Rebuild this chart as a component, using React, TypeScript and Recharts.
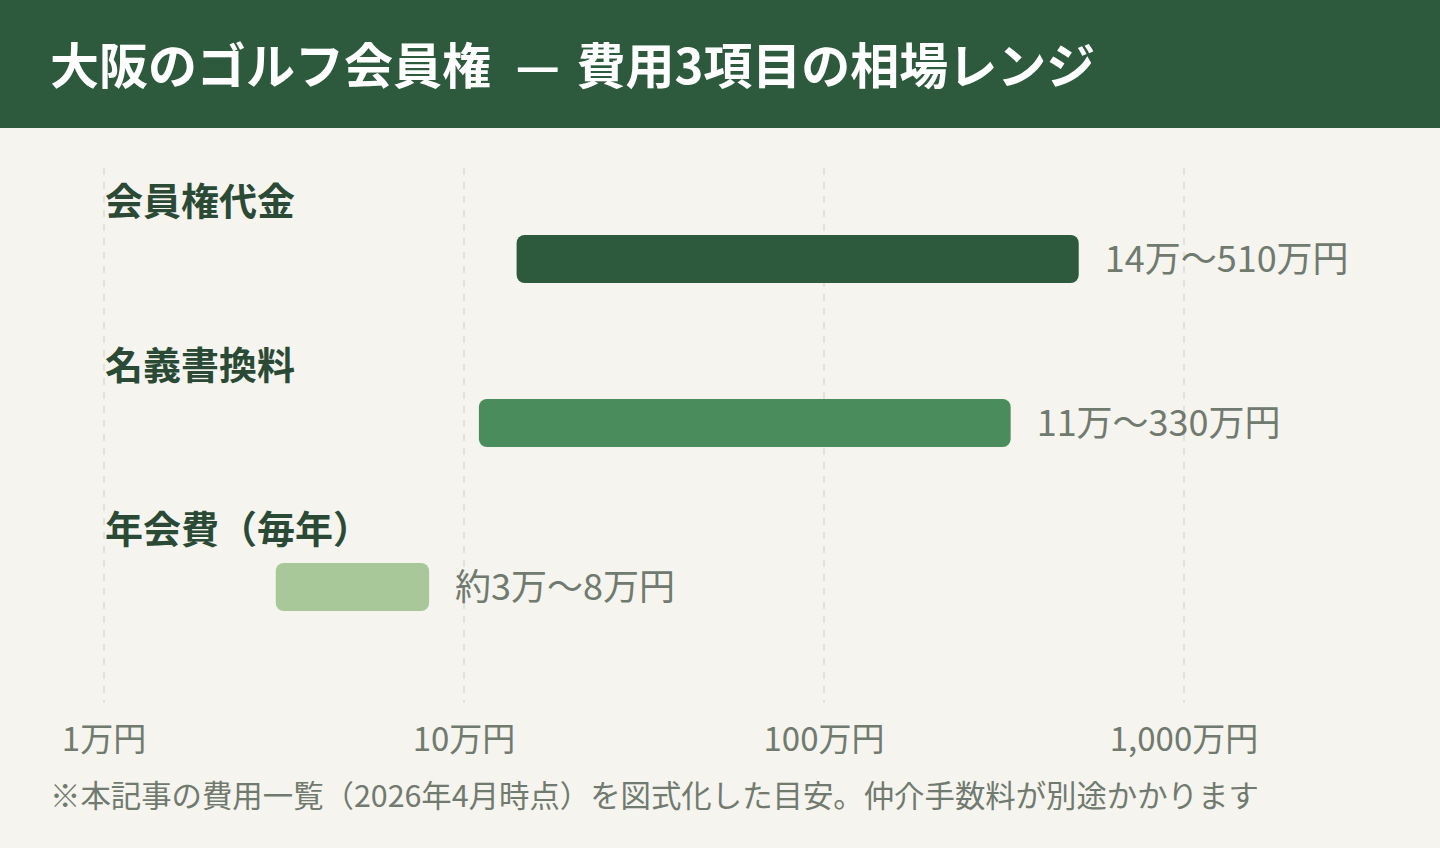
import { BarChart, Bar, XAxis, YAxis, CartesianGrid, Cell, LabelList } from "recharts";

const categories = ["会員権代金", "名義書換料", "年会費（毎年）"];
const lows = [14, 11, 3]; // 万円
const highs = [510, 330, 8]; // 万円
const rangeLabels = ["14万〜510万円", "11万〜330万円", "約3万〜8万円"];
const barColors = ["#2d5a3d", "#4a8c5c", "#a8c89a"];
const xTicks = [1, 10, 100, 1000];
const xTickLabels = ["1万円", "10万円", "100万円", "1,000万円"];

const FONT = '"Noto Sans CJK JP", "Noto Sans", sans-serif';
const BG = "#f5f4ee";
const GRAY = "#707a6e";

const data = categories.map((name, i) => ({
  name,
  range: [lows[i], highs[i]],
  label: rangeLabels[i],
}));

// category name sits above its bar, flush with the plot's left edge
function CategoryTick(props: any) {
  const { x, y, payload } = props;
  return (
    <text
      x={x + 1}
      y={y - 61}
      textAnchor="start"
      dominantBaseline="central"
      fontFamily={FONT}
      fontWeight={700}
      fontSize={38}
      fill="#2b4a36"
    >
      {payload.value}
    </text>
  );
}

export default function App() {
  return (
    <div
      style={{
        position: "absolute",
        left: 0,
        top: 0,
        width: 1440,
        height: 848,
        background: BG,
        fontFamily: FONT,
        overflow: "hidden",
      }}
    >
      <div
        style={{
          height: 128,
          background: "#2d5a3d",
          color: "#fff",
          display: "flex",
          alignItems: "center",
          paddingLeft: 50,
          paddingBottom: 4,
          boxSizing: "border-box",
          fontSize: 49,
          fontWeight: 700,
          whiteSpace: "nowrap",
        }}
      >
        大阪のゴルフ会員権{"\u2002"}—{"\u2004"}費用3項目の相場レンジ
      </div>

      <div style={{ position: "absolute", left: 0, top: 128 }}>
        <BarChart
          width={1440}
          height={720}
          data={data}
          layout="vertical"
          margin={{ top: 40, right: 256, bottom: 85, left: 0 }}
        >
          <CartesianGrid
            horizontal={false}
            stroke="#dcdcd4"
            strokeWidth={1.5}
            strokeDasharray="7 7"
          />
          <XAxis
            type="number"
            scale="log"
            domain={[1, 1000]}
            ticks={xTicks}
            allowDataOverflow
            axisLine={false}
            tickLine={false}
            tickSize={0}
            tickMargin={25}
            height={60}
            tickFormatter={(v: number) => xTickLabels[xTicks.indexOf(v)] ?? String(v)}
            tick={{ fontSize: 33, fill: GRAY, fontFamily: FONT }}
          />
          <YAxis
            type="category"
            dataKey="name"
            width={104}
            axisLine={false}
            tickLine={false}
            tickSize={0}
            tickMargin={0}
            padding={{ top: 9, bottom: 34 }}
            tick={(p: any) => <CategoryTick {...p} />}
          />
          <Bar dataKey="range" barSize={48} radius={8} isAnimationActive={false}>
            {data.map((d, i) => (
              <Cell key={d.name} fill={barColors[i]} />
            ))}
            <LabelList
              dataKey="label"
              position="right"
              offset={26}
              style={{ fontSize: 36, fill: GRAY, fontFamily: FONT }}
            />
          </Bar>
        </BarChart>
      </div>

      <div
        style={{
          position: "absolute",
          left: 50,
          top: 775,
          fontSize: 30.4,
          color: GRAY,
          lineHeight: "38px",
          whiteSpace: "nowrap",
        }}
      >
        ※本記事の費用一覧（2026年4月時点）を図式化した目安。仲介手数料が別途かかります
      </div>
    </div>
  );
}
